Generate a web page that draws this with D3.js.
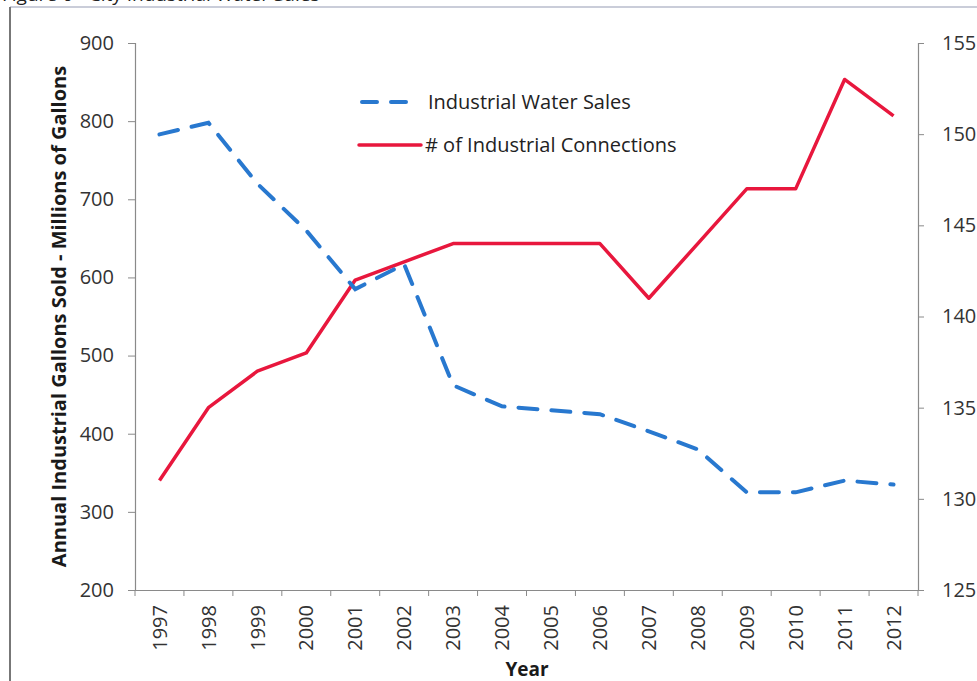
<!DOCTYPE html>
<html><head><meta charset="utf-8">
<script src="https://cdn.jsdelivr.net/npm/d3@7"></script>
<style>body{margin:0;background:#fff;}svg{display:block;}</style>
</head><body>
<svg id="c" width="977" height="681"></svg>
<script>
const years = ["1997","1998","1999","2000","2001","2002","2003","2004","2005","2006","2007","2008","2009","2010","2011","2012"];
const waterSales = [783, 798, 720, 660, 585, 617, 462, 435, 430, 425, 403, 380, 325, 325, 340, 335];
const connections = [131, 135, 137, 138, 142, 143, 144, 144, 144, 144, 141, 144, 147, 147, 153, 151];
const leftTicks = [200, 300, 400, 500, 600, 700, 800, 900];
const rightTicks = [125, 130, 135, 140, 145, 150, 155];
const seriesNames = ["Industrial Water Sales", "# of Industrial Connections"];

const svg = d3.select("#c");
const font = "'Open Sans', 'Liberation Sans', sans-serif";
const L = 135, R = 918, T = 43, B = 590;

// frame
svg.append("line").attr("x1",10).attr("x2",977).attr("y1",7).attr("y2",7).attr("stroke","#b8bccc").attr("stroke-width",1.5);
svg.append("line").attr("x1",10).attr("x2",10).attr("y1",7).attr("y2",681).attr("stroke","#777").attr("stroke-width",2);
svg.append("text").attr("x",2).attr("y",1).attr("font-family",font).attr("font-size",19).attr("fill","#222").text("Figure 6 - City Industrial Water Sales");

const x = d3.scaleBand().domain(years).range([L, R]).padding(0);
const yL = d3.scaleLinear().domain([200, 900]).range([B, T]);
const yR = d3.scaleLinear().domain([125, 155]).range([B, T]);
const cx = d => x(d) + x.bandwidth()/2;

const axisColor = "#8a8a8a";
const gl = svg.append("g").attr("transform",`translate(${L},0)`).call(d3.axisLeft(yL).tickValues(leftTicks).tickSize(7).tickPadding(14));
const gr = svg.append("g").attr("transform",`translate(${R},0)`).call(d3.axisRight(yR).tickValues(rightTicks).tickSize(6).tickPadding(18));
const gb = svg.append("g").attr("transform",`translate(0,${B})`).call(d3.axisBottom(x).tickSize(0).tickPadding(10));
[gl, gr, gb].forEach(g => {
  g.select(".domain").attr("stroke", axisColor).attr("stroke-width",1.2);
  g.selectAll(".tick line").attr("stroke", axisColor);
  g.selectAll("text").attr("font-family", font).attr("font-size", 20).attr("fill", "#333");
});
gb.selectAll(".tick text").attr("transform","rotate(-90)").attr("text-anchor","end").attr("x",-15).attr("y",0).attr("dy","0.36em");
const bounds = years.map(d => x(d)).concat([R]);
svg.append("g").selectAll("line").data(bounds).join("line")
  .attr("x1",d=>d).attr("x2",d=>d).attr("y1",B).attr("y2",B+6).attr("stroke",axisColor);

// axis titles
svg.append("text").attr("transform",`translate(66,${(T+B)/2+0}) rotate(-90)`).attr("text-anchor","middle")
  .attr("font-family",font).attr("font-size",20).attr("font-weight","bold").attr("fill","#1a1a1a")
  .text("Annual Industrial Gallons Sold - Millions of Gallons");
svg.append("text").attr("x",527).attr("y",676).attr("text-anchor","middle")
  .attr("font-family",font).attr("font-size",19).attr("font-weight","bold").attr("fill","#1a1a1a").text("Year");

// lines
const blue = "#2878cf", red = "#e8173d";
const lineW = d3.line().x((d,i)=>cx(years[i])).y(d=>yL(d));
const lineC = d3.line().x((d,i)=>cx(years[i])).y(d=>yR(d));
svg.append("path").datum(connections).attr("d",lineC).attr("fill","none").attr("stroke",red).attr("stroke-width",3.5).attr("stroke-linejoin","round");
svg.append("path").datum(waterSales).attr("d",lineW).attr("fill","none").attr("stroke",blue).attr("stroke-width",4).attr("stroke-dasharray","19,14").attr("stroke-linecap","round");

// legend
const lg = svg.append("g");
lg.append("line").attr("x1",362).attr("x2",410).attr("y1",102).attr("y2",102).attr("stroke",blue).attr("stroke-width",4).attr("stroke-dasharray","15,14").attr("stroke-linecap","round");
lg.append("text").attr("x",428).attr("y",102).attr("dy","0.35em").attr("font-family",font).attr("font-size",20).attr("fill","#222").text(seriesNames[0]);
lg.append("line").attr("x1",359).attr("x2",421).attr("y1",145).attr("y2",145).attr("stroke",red).attr("stroke-width",3.5).attr("stroke-linecap","round");
lg.append("text").attr("x",425).attr("y",145).attr("dy","0.35em").attr("font-family",font).attr("font-size",20).attr("fill","#222").text(seriesNames[1]);
</script>
</body></html>
